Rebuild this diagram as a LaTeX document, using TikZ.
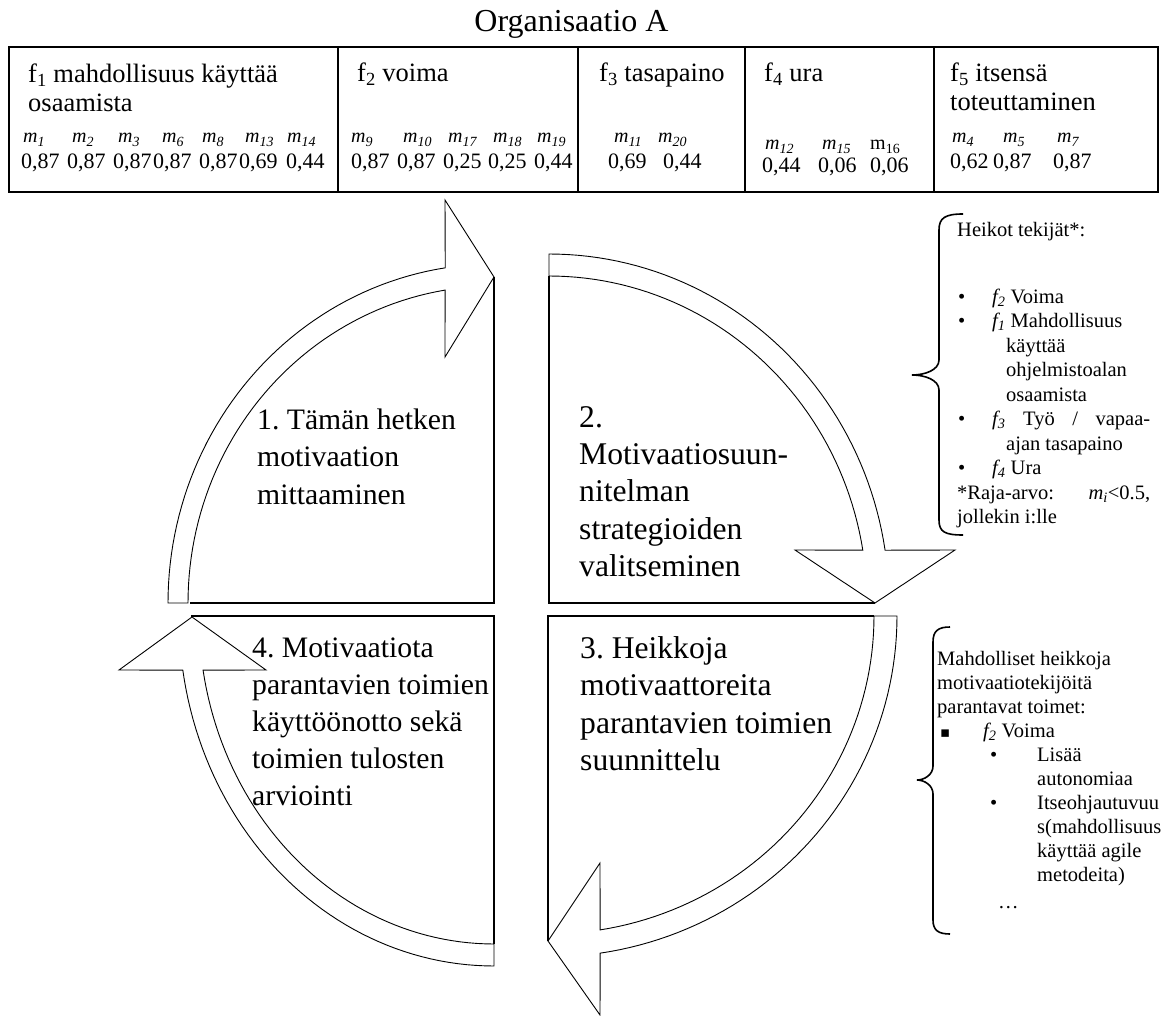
\documentclass[tikz,border=0pt]{standalone}
\usepackage{fontspec}
\setmainfont{Liberation Serif}
\newfontfamily\dejavu{DejaVu Sans}
\frenchspacing
\begin{document}
\begin{tikzpicture}[x=1pt,y=-1pt,
 tbl/.style={line width=1.3pt},
 band/.style={draw,line width=0.9pt,fill=white,line join=miter},
 qedge/.style={line width=2pt},
 bracestyle/.style={line width=1.6pt},
 ql/.style={anchor=base west,inner sep=0pt,font=\fontsize{29.7}{37}\selectfont},
 qr/.style={anchor=base west,inner sep=0pt,font=\fontsize{31.6}{37}\selectfont},
 hd/.style={anchor=base west,inner sep=0pt,font=\fontsize{26.5}{29}\selectfont},
 ml/.style={anchor=base west,inner sep=0pt,font=\fontsize{20}{22}\selectfont\itshape},
 nm/.style={anchor=base west,inner sep=0pt,font=\fontsize{22}{26}\selectfont},
 sm/.style={anchor=base west,inner sep=0pt,font=\fontsize{20.5}{24}\selectfont},
]
\useasboundingbox[fill=white] (0,0) rectangle (1167,1016);

% title
\node[anchor=base,inner sep=0pt,font=\fontsize{32}{36}\selectfont] (title) at (571.5,32) {Organisaatio A};

% table
\draw[tbl] (9,47) rectangle (1158,192);
\foreach \x in {338,578,745,934} \draw[tbl] (\x,47) -- (\x,192);

\node[hd] (h1a) at (28,83) {f\textsubscript{1} mahdollisuus käyttää};
\node[hd] (h1b) at (28,112) {osaamista};
\node[hd] (h2) at (357,82) {f\textsubscript{2} voima};
\node[hd] (h3) at (599,82) {f\textsubscript{3} tasapaino};
\node[hd] (h4) at (764,82) {f\textsubscript{4} ura};
\node[hd] (h5a) at (950,82) {f\textsubscript{5} itsensä};
\node[hd] (h5b) at (950,111) {toteuttaminen};

% f1
\foreach \x/\s [count=\i] in {23/1,72/2,118/3,162/6,202/8,245/13,287/14}
  \node[ml] (la\i) at (\x,143) {m\textsubscript{\s}};
\foreach \x/\t [count=\i] in {21/{0,87},67/{0,87},113/{0,87},153/{0,87},199/{0,87},239/{0,69},286/{0,44}}
  \node[nm] (na\i) at (\x,169) {\t};
% f2
\foreach \x/\s [count=\i] in {351/9,403/10,448/17,493/18,537/19}
  \node[ml] (lb\i) at (\x,143) {m\textsubscript{\s}};
\foreach \x/\t [count=\i] in {351/{0,87},397/{0,87},443/{0,25},488/{0,25},534/{0,44}}
  \node[nm] (nb\i) at (\x,169) {\t};
% f3
\node[ml] (lc1) at (614,143) {m\textsubscript{11}};
\node[ml] (lc2) at (658,143) {m\textsubscript{20}};
\node[nm] (nc1) at (608,169) {0,69};
\node[nm] (nc2) at (663,169) {0,44};
% f4
\node[ml] (ld1) at (765,150) {m\textsubscript{12}};
\node[ml] (ld2) at (822,150) {m\textsubscript{15}};
\node[ml] (ld3) at (870,150) {\upshape m\textsubscript{16}};
\node[nm] (nd1) at (762,173) {0,44};
\node[nm] (nd2) at (818,173) {0,06};
\node[nm] (nd3) at (870,173) {0,06};
% f5
\node[ml] (le1) at (952,143) {m\textsubscript{4}};
\node[ml] (le2) at (1003,143) {m\textsubscript{5}};
\node[ml] (le3) at (1057,143) {m\textsubscript{7}};
\node[nm] (ne1) at (950,169) {0,62};
\node[nm] (ne2) at (993,169) {0,87};
\node[nm] (ne3) at (1053,169) {0,87};

% quadrant 1 arrow (top-left)
\draw[band] plot[domain=180:261.4,samples=50] ({494+326*cos(\x)},{603+339*sin(\x)})
  -- (445,200) -- (494,277) -- (445,357)
  -- plot[domain=260.8:180,samples=50] ({494+306*cos(\x)},{603+317*sin(\x)}) -- cycle;
% quadrant 2 arrow (top-right)
\draw[band] plot[domain=270:351.3,samples=50] ({549+340*cos(\x)},{603+349*sin(\x)})
  -- (955,550) -- (875,603) -- (795,550)
  -- plot[domain=350.7:270,samples=50] ({549+318*cos(\x)},{603+327*sin(\x)}) -- cycle;
% quadrant 3 arrow (bottom-right)
\draw[band] plot[domain=0:81.4,samples=50] ({548+349*cos(\x)},{616+341*sin(\x)})
  -- (600,1015) -- (548,941) -- (600,863)
  -- plot[domain=80.8:0,samples=50] ({548+326*cos(\x)},{616+318*sin(\x)}) -- cycle;
% quadrant 4 arrow (bottom-left)
\draw[band] plot[domain=90:171.1,samples=50] ({494+315*cos(\x)},{616+350*sin(\x)})
  -- (119,670) -- (192,617) -- (266,670)
  -- plot[domain=170.5:90,samples=50] ({494+295*cos(\x)},{616+328*sin(\x)}) -- cycle;

% quadrant straight edges
\draw[qedge] (190,603) -- (494,603) -- (494,277);
\draw[qedge] (549,276) -- (549,603) -- (875,603);
\draw[qedge] (874,616) -- (548,616) -- (548,941);
\draw[qedge] (191,616) -- (494,616) -- (494,944);

% quadrant texts
\node[ql] (q1a) at (257,429) {1. Tämän hetken};
\node[ql] (q1b) at (257,466.5) {motivaation};
\node[ql] (q1c) at (257,504) {mittaaminen};

\node[qr] (q2a) at (579,427) {2.};
\node[qr] (q2b) at (579,464) {Motivaatiosuun-};
\node[qr] (q2c) at (579,501.5) {nitelman};
\node[qr] (q2d) at (579,539) {strategioiden};
\node[qr] (q2e) at (579,576) {valitseminen};

\node[qr] (q3a) at (580,658) {3. Heikkoja};
\node[qr] (q3b) at (580,695.5) {motivaattoreita};
\node[qr] (q3c) at (580,733) {parantavien toimien};
\node[qr] (q3d) at (580,770) {suunnittelu};

\node[ql] (q4a) at (252,657) {4. Motivaatiota};
\node[ql] (q4b) at (252,694) {parantavien toimien};
\node[ql] (q4c) at (252,731) {käyttöönotto sekä};
\node[ql] (q4d) at (252,768) {toimien tulosten};
\node[ql] (q4e) at (252,805) {arviointi};

% brace 1
\draw[bracestyle] (963,214) .. controls (945,214) and (939,218) .. (939,230)
  -- (939,360) .. controls (939,370) and (925,375) .. (912,375)
  .. controls (925,375) and (939,380) .. (939,390)
  -- (939,520) .. controls (939,532) and (945,535) .. (963,535);
% brace 2
\draw[bracestyle] (950,627) .. controls (938,627) and (933,631) .. (933,642)
  -- (933,766) .. controls (933,775) and (924,780) .. (917,780)
  .. controls (924,780) and (933,785) .. (933,794)
  -- (933,920) .. controls (933,930) and (938,934) .. (950,934);

% right text 1
\node[sm] (t1) at (957,237) {Heikot tekijät*:};
\node[sm] (t1b1) at (958,303) {•};
\node[sm] (t1a) at (992,303) {\textit{f\textsubscript{2}} Voima};
\node[sm] (t1b2) at (958,327.5) {•};
\node[sm] (t1c) at (992,327.5) {\textit{f\textsubscript{1}} Mahdollisuus};
\node[sm] (t1d) at (1006,352) {käyttää};
\node[sm] (t1e) at (1006,376.5) {ohjelmistoalan};
\node[sm] (t1f) at (1006,401) {osaamista};
\node[sm] (t1b3) at (958,425.5) {•};
\node[sm] (t1g) at (992,425.5) {\makebox[158pt][s]{\textit{f\textsubscript{3}} Työ / vapaa-}};
\node[sm] (t1h) at (1006,450) {ajan tasapaino};
\node[sm] (t1b4) at (958,474.5) {•};
\node[sm] (t1i) at (992,474.5) {\textit{f\textsubscript{4}} Ura};
\node[sm] (t1j) at (957,499) {\makebox[193pt][s]{*Raja-arvo: \textit{m\textsubscript{i}}<0.5,}};
\node[sm] (t1k) at (957,523.5) {jollekin i:lle};

% right text 2
\node[sm] (t2a) at (937,665) {Mahdolliset heikkoja};
\node[sm] (t2b) at (937,689) {motivaatiotekijöitä};
\node[sm] (t2c) at (937,713) {parantavat toimet:};
\node[sm] (t2sq) at (940,737) {\dejavu\fontsize{15}{17}\selectfont ▪};
\node[sm] (t2d) at (983,737) {\textit{f\textsubscript{2}} Voima};
\node[sm] (t2b1) at (990,761) {•};
\node[sm] (t2e) at (1037,761) {Lisää};
\node[sm] (t2f) at (1037,785) {autonomiaa};
\node[sm] (t2b2) at (990,809) {•};
\node[sm] (t2g) at (1037,809) {Itseohjautuvuu};
\node[sm] (t2h) at (1037,833) {s(mahdollisuus};
\node[sm] (t2i) at (1037,857) {käyttää agile};
\node[sm] (t2j) at (1037,881) {metodeita)};
\node[sm] (t2k) at (998,908) {…};
\end{tikzpicture}
\end{document}
